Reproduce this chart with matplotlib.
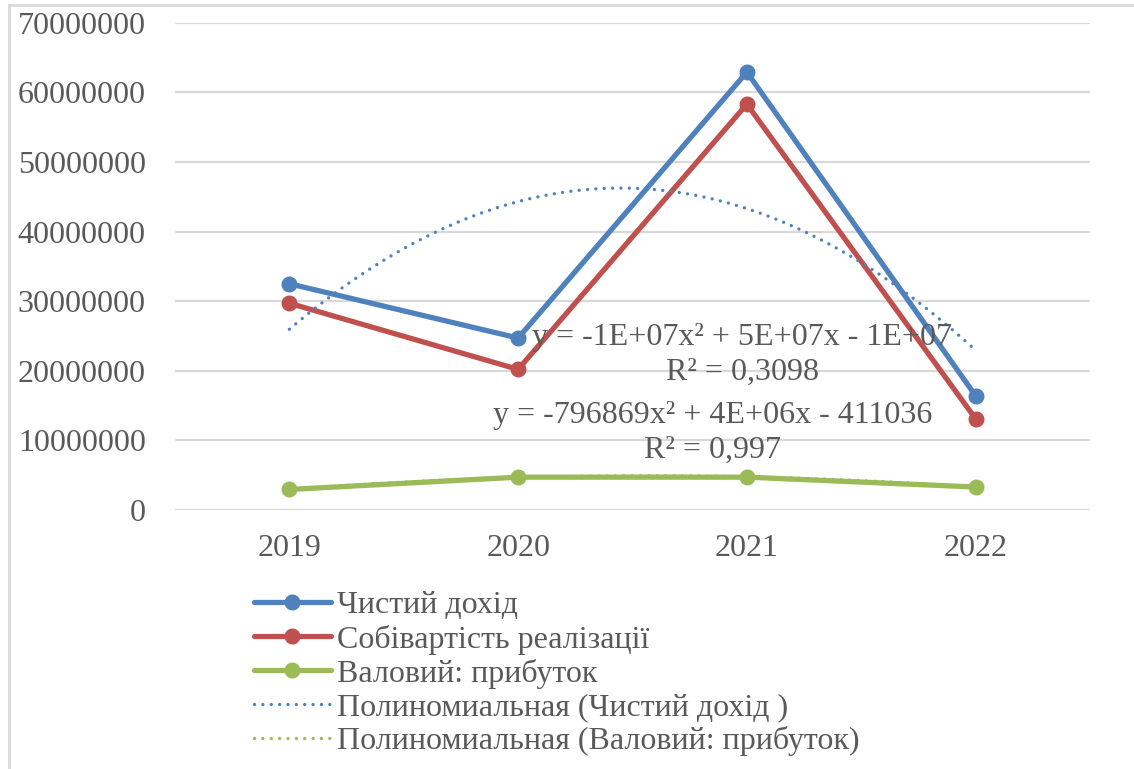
import numpy as np
import matplotlib
matplotlib.use('Agg')
import matplotlib.pyplot as plt
from matplotlib.lines import Line2D

years = ['2019', '2020', '2021', '2022']
net_income = [32.5e6, 24.7e6, 62.9e6, 16.4e6]     # Чистий дохід
cost_of_sales = [29.7e6, 20.2e6, 58.3e6, 13.1e6]  # Собівартість реалізації
gross_profit = [2.95e6, 4.72e6, 4.72e6, 3.3e6]    # Валовий: прибуток

eq_income = ['y = -1E+07x\u00b2 + 5E+07x - 1E+07', 'R\u00b2 = 0,3098']
eq_gross = ['y = -796869x\u00b2 + 4E+06x - 411036', 'R\u00b2 = 0,997']

BLUE = '#4F81BD'
RED = '#C0504D'
GREEN = '#9BBB59'
TEXT = '#595959'
GRID = '#D9D9D9'
FS = 23

plt.rcParams['font.family'] = ['Liberation Serif', 'DejaVu Serif']

W, H = 1134, 769
fig = plt.figure(figsize=(W / 100, H / 100), dpi=100)
ax = fig.add_axes([175 / W, 1 - 510 / H, (1090 - 175) / W, (510 - 22.7) / H])

x = np.arange(1, len(years) + 1)

line_kw = dict(lw=3.8, marker='o', markersize=10.5, solid_capstyle='round')
ax.plot(x, net_income, color=BLUE, label='Чистий дохід', zorder=3, **line_kw)
ax.plot(x, cost_of_sales, color=RED, label='Собівартість реалізації', zorder=3, **line_kw)
ax.plot(x, gross_profit, color=GREEN, label='Валовий: прибуток', zorder=3, **line_kw)

# 2nd order polynomial trendlines, round dots
dots = (0, (0.01, 2.5))
xs = np.linspace(1, 4, 200)
p_income = np.polyfit(x, net_income, 2)
p_gross = np.polyfit(x, gross_profit, 2)
ax.plot(xs, np.polyval(p_income, xs), color=BLUE, lw=2.4, ls=dots,
        dash_capstyle='round', label='Полиномиальная (Чистий дохід )', zorder=4)
ax.plot(xs, np.polyval(p_gross, xs), color=GREEN, lw=2.4, ls=dots,
        dash_capstyle='round', label='Полиномиальная (Валовий: прибуток)', zorder=4)

ax.set_xlim(0.5, 4.5)
ax.set_ylim(0, 70e6)
ax.set_xticks(x)
ax.set_xticklabels(years)
ax.set_yticks(np.arange(0, 70e6 + 1, 10e6))
ax.set_yticklabels([f'{int(v)}' for v in np.arange(0, 70e6 + 1, 10e6)])
ax.tick_params(axis='both', length=0, labelsize=FS, colors=TEXT)
ax.tick_params(axis='y', pad=21)
ax.tick_params(axis='x', pad=17)
for s in ax.spines.values():
    s.set_visible(False)
ax.grid(axis='y', color=GRID, lw=1.6)
ax.set_axisbelow(True)

# trendline equations
for (txt, px, py) in [(eq_income[0], 742, 337), (eq_income[1], 742, 372),
                      (eq_gross[0], 713, 415), (eq_gross[1], 713, 450)]:
    fig.text(px / W, 1 - py / H, txt, ha='center', va='center',
             fontsize=FS, color=TEXT, zorder=5)

handles, labels = ax.get_legend_handles_labels()
leg = fig.legend(handles, labels, loc='upper left',
                 bbox_to_anchor=(254 / W, 1 - 591 / H), frameon=False,
                 fontsize=FS, handlelength=2.4, handletextpad=0.2,
                 labelspacing=0.13, borderaxespad=0, borderpad=0)
for t in leg.get_texts():
    t.set_color(TEXT)

# chart frame (top and left edges visible)
fig.add_artist(Line2D([9 / W, 1], [1 - 5 / H, 1 - 5 / H], color=GRID, lw=2,
                      transform=fig.transFigure))
fig.add_artist(Line2D([9 / W, 9 / W], [0, 1 - 5 / H], color=GRID, lw=2,
                      transform=fig.transFigure))

fig.savefig('out.png', dpi=100, facecolor='white')
